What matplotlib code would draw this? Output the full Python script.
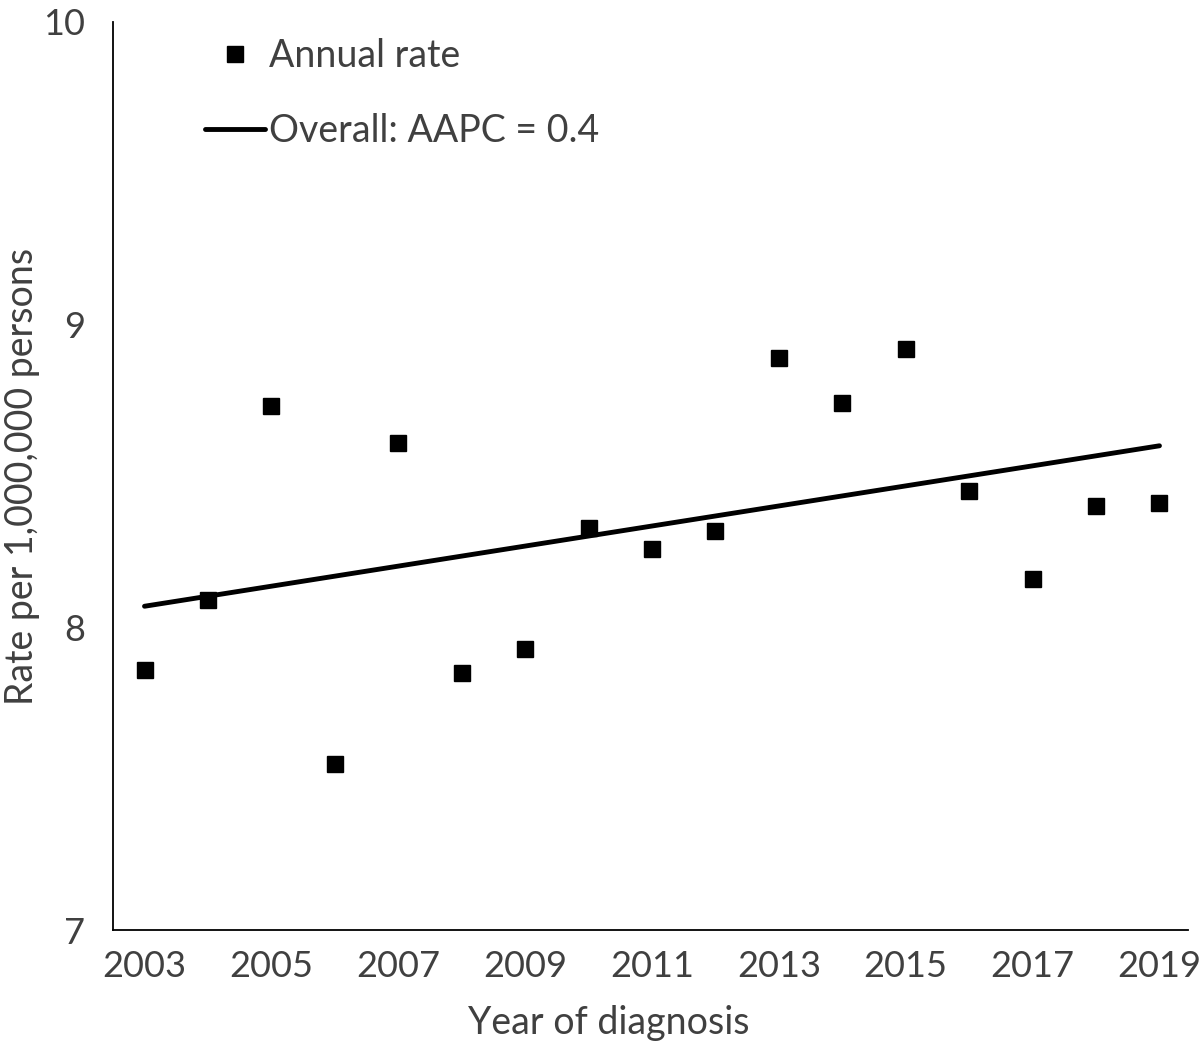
import numpy as np
import matplotlib.pyplot as plt

plt.rcParams['font.family'] = ['Lato', 'DejaVu Sans']

years = np.arange(2003, 2020)
rate = [7.86, 8.09, 8.73, 7.55, 8.61, 7.85, 7.93, 8.33, 8.26, 8.32,
        8.89, 8.74, 8.92, 8.45, 8.16, 8.40, 8.41]
trend_start = 8.07
trend_end = 8.60
xticks = np.arange(2003, 2020, 2)
yticks = [7, 8, 9, 10]

txt = '#404040'

fig = plt.figure(figsize=(12, 10.44), dpi=100)
ax = fig.add_axes([0.094, 0.109, 0.896, 0.87])

trend = np.linspace(trend_start, trend_end, len(years))
ax.plot(years, rate, 's', color='black', markersize=11.5, label='Annual rate', zorder=3)
ax.plot(years, trend, '-', color='black', linewidth=3.5, solid_capstyle='round',
        label='Overall: AAPC = 0.4')

ax.set_xlim(2002.5, 2019.45)
ax.set_ylim(7, 10)
ax.set_xticks(xticks)
ax.set_yticks(yticks)
ax.tick_params(length=0, labelsize=26, colors=txt, pad=14)
ax.tick_params(axis='y', pad=20)
for s in ['top', 'right']:
    ax.spines[s].set_visible(False)
for s in ['left', 'bottom']:
    ax.spines[s].set_linewidth(1.3)
    ax.spines[s].set_color('black')

ax.set_xlabel('Year of diagnosis', fontsize=27, color=txt)
ax.set_ylabel('Rate per 1,000,000 persons', fontsize=27, color=txt)
ax.xaxis.set_label_coords(0.461, -0.082)
ax.yaxis.set_label_coords(-0.068, 0.5)

leg = ax.legend(loc='upper left', bbox_to_anchor=(0.054, 1.019), frameon=False,
                fontsize=27, handlelength=1.6, handletextpad=0.13, labelspacing=1.04,
                labelcolor=txt)

fig.savefig('out.png', dpi=100)
